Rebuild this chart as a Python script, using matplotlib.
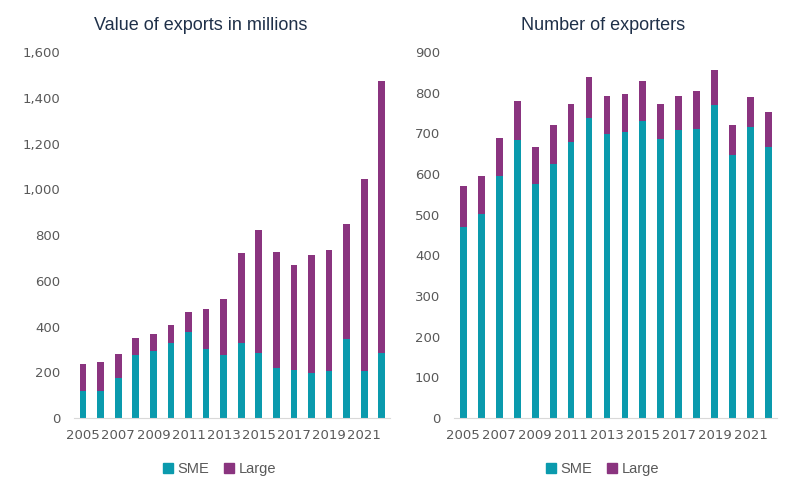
import matplotlib.pyplot as plt
from matplotlib.ticker import FuncFormatter
from matplotlib.patches import Patch

years = list(range(2005, 2023))

# value of exports in millions
value_sme = [119, 116, 177, 276, 294, 329, 377, 303, 276, 326, 282, 220, 211, 198, 207, 346, 204, 285]
value_total = [237, 246, 281, 351, 368, 407, 464, 477, 521, 721, 822, 726, 669, 713, 735, 848, 1044, 1472]
value_large = [t - s for t, s in zip(value_total, value_sme)]

# number of exporters
count_sme = [470, 502, 595, 684, 576, 625, 679, 738, 699, 704, 730, 686, 709, 710, 769, 646, 715, 666]
count_total = [570, 595, 688, 779, 666, 720, 772, 838, 791, 796, 828, 772, 791, 803, 855, 720, 789, 752]
count_large = [t - s for t, s in zip(count_total, count_sme)]

teal = "#0A9AAD"
purple = "#8A347F"
grey = "#595959"
navy = "#1F3049"

fig = plt.figure(figsize=(8, 4.9), dpi=100)
ax1 = fig.add_axes([74 / 800, 1 - 418 / 490, 316 / 800, 366 / 490])
ax2 = fig.add_axes([454 / 800, 1 - 418 / 490, 323 / 800, 366 / 490])

panels = [
    (ax1, value_sme, value_large, "Value of exports in millions", 1600, 200, 0.40),
    (ax2, count_sme, count_large, "Number of exporters", 900, 100, 0.46),
]

for ax, sme, large, title, ymax, step, tx in panels:
    ax.bar(years, sme, width=0.38, color=teal, label="SME")
    ax.bar(years, large, width=0.38, bottom=sme, color=purple, label="Large")
    ax.set_ylim(0, ymax)
    ax.set_xlim(2004.48, 2022.47)
    ax.set_yticks(range(0, ymax + 1, step))
    ax.yaxis.set_major_formatter(FuncFormatter(lambda v, p: f"{int(v):,}"))
    ax.set_xticks(years[::2])
    for s in ["top", "right", "left"]:
        ax.spines[s].set_visible(False)
    ax.spines["bottom"].set_color("#D9D9D9")
    ax.tick_params(length=0, colors=grey, labelsize=9.5)
    ax.tick_params(axis="x", pad=8)
    ax.tick_params(axis="y", pad=10)
    for lab in ax.get_xticklabels() + ax.get_yticklabels():
        lab.set_family("DejaVu Sans")
    ax.set_title(title, fontsize=13, color=navy, family="Liberation Sans", pad=16, x=tx)
    handles = [Patch(color=teal, label="SME"), Patch(color=purple, label="Large")]
    leg = ax.legend(handles=handles, loc="upper center", bbox_to_anchor=(0.46, -0.085),
                    ncol=2, frameon=False, handlelength=0.7, handleheight=0.7,
                    handletextpad=0.3, columnspacing=1.0,
                    prop={"family": "Liberation Sans", "size": 10.5})
    for t in leg.get_texts():
        t.set_color(grey)

fig.savefig("out.png", dpi=100, facecolor="white")
